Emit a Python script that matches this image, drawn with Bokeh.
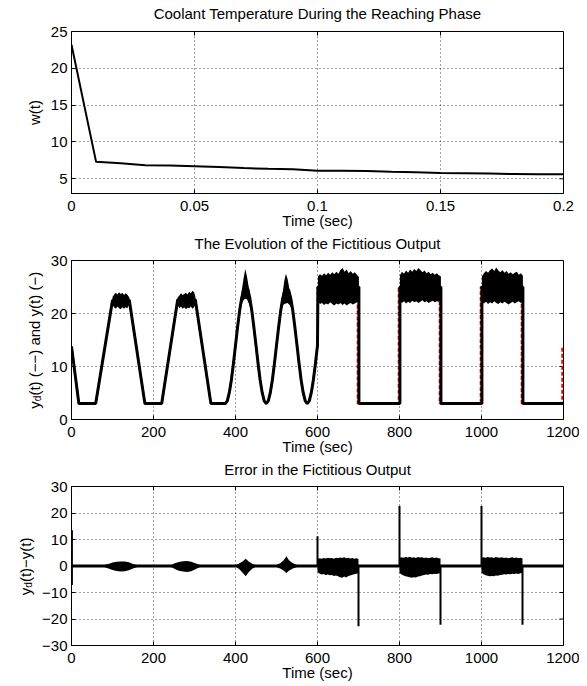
import math
from bokeh.plotting import figure
from bokeh.layouts import column, row
from bokeh.models import FixedTicker, Range1d
from bokeh.core.properties import value
from bokeh.embed import file_html
from bokeh.resources import INLINE

FONT = "Liberation Sans"

# ---------------- panel 1 : coolant temperature ----------------
w_time = [0.00, 0.01, 0.02, 0.03, 0.04, 0.05, 0.06, 0.07, 0.08, 0.09, 0.10,
          0.11, 0.12, 0.13, 0.14, 0.15, 0.16, 0.17, 0.18, 0.19, 0.20]
w_value = [23.2, 7.3, 7.1, 6.85, 6.8, 6.7, 6.6, 6.45, 6.35, 6.3, 6.1,
           6.1, 6.05, 5.95, 5.9, 5.8, 5.75, 5.7, 5.65, 5.6, 5.6]
p1_xticks = [0, 0.05, 0.1, 0.15, 0.2]
p1_xlabels = ["0", "0.05", "0.1", "0.15", "0.2"]
p1_yticks = [5, 10, 15, 20, 25]
p1_ylabels = ["5", "10", "15", "20", "25"]

# ---------------- panel 2 : fictitious output ----------------
trap_time = [0, 18, 59, 100, 141, 179, 220, 259, 302, 340, 375]
trap_value = [13.8, 3.0, 3.0, 22.5, 22.5, 3.0, 3.0, 22.6, 22.6, 3.0, 3.0]
sine_time = [380, 385, 390, 395, 400, 405, 410, 415, 420, 425,
             430, 435, 440, 445, 450, 455, 460, 465, 470, 475,
             480, 485, 490, 495, 500, 505, 510, 515, 520, 525,
             530, 535, 540, 545, 550, 555, 560, 565, 570, 575,
             580, 585, 590, 595, 600]
sine_value = [3.5, 5.1, 7.5, 10.6, 14.0, 17.4, 20.5, 22.9, 24.5, 25.2,
              24.6, 22.9, 20.4, 17.3, 14.0, 10.6, 7.5, 5.1, 3.5, 3.0,
              3.5, 5.1, 7.5, 10.6, 14.0, 17.3, 20.4, 22.8, 24.3, 24.8,
              24.3, 22.8, 20.4, 17.3, 14.0, 10.6, 7.5, 5.1, 3.5, 3.0,
              3.5, 5.1, 7.5, 10.6, 14.0]
sq_time_y = [601, 701, 701, 801, 801, 901, 901, 1001, 1001, 1101, 1101, 1200]
sq_value_y = [25, 25, 3, 3, 25, 25, 3, 3, 25, 25, 3, 3]
sq_time_d = [600, 698, 698, 798, 798, 898, 898, 998, 998, 1098, 1098, 1197, 1197]
sq_value_d = [25, 25, 3, 3, 25, 25, 3, 3, 25, 25, 3, 3, 13.8]

trA_time = [100, 104, 108, 112, 116, 120, 124, 128, 132, 136, 141]
trA_lo = [21.6, 21.2, 20.9, 21.3, 21.0, 20.8, 21.2, 20.9, 21.2, 21.0, 21.7]
trA_hi = [23.1, 23.6, 23.9, 23.6, 24.0, 23.7, 23.9, 23.5, 23.8, 23.6, 23.0]
trB_time = [259, 263, 267, 271, 275, 279, 283, 287, 291, 295, 299, 302]
trB_lo = [21.6, 21.0, 21.3, 20.9, 21.2, 20.8, 21.1, 21.0, 21.3, 20.9, 21.2, 21.7]
trB_hi = [23.0, 23.4, 23.8, 23.5, 23.7, 23.9, 23.6, 24.1, 23.8, 24.3, 24.0, 23.2]
pk1_time = [404, 410, 415, 420, 424, 428, 433, 438, 444]
pk1_lo = [16.6, 19.9, 21.7, 22.6, 22.8, 22.7, 21.8, 20.4, 17.8]
pk1_hi = [17.1, 21.3, 24.2, 26.8, 28.4, 27.0, 24.6, 22.1, 18.3]
pk2_time = [504, 510, 515, 519, 523, 527, 532, 537, 543]
pk2_lo = [16.5, 19.7, 21.4, 21.8, 21.9, 22.0, 21.6, 20.9, 18.3]
pk2_hi = [17.0, 21.1, 23.9, 26.2, 27.5, 26.5, 24.5, 22.6, 18.9]
sqA_time = [601, 606, 611, 616, 621, 626, 631, 636, 641, 646, 651,
            656, 661, 666, 671, 676, 681, 686, 691, 696, 701]
sqA_hi = [27.0, 27.4, 27.1, 27.6, 27.2, 27.7, 27.3, 27.8, 27.4, 27.9, 27.5,
          28.2, 28.6, 27.9, 28.3, 27.6, 28.0, 27.5, 27.8, 27.3, 26.9]
sqA_lo = [22.3, 21.8, 22.0, 21.6, 21.9, 21.7, 22.1, 21.8, 21.5, 21.9, 21.7,
          22.0, 21.6, 21.9, 21.5, 21.8, 22.0, 21.7, 21.9, 22.1, 22.3]
sqB_time = [801, 806, 811, 816, 821, 826, 831, 836, 841, 846, 851,
            856, 861, 866, 871, 876, 881, 886, 891, 896, 901]
sqB_hi = [27.2, 27.9, 27.5, 28.1, 27.7, 28.3, 27.9, 28.4, 28.0, 28.6, 28.2,
          27.8, 28.1, 27.6, 27.9, 27.4, 27.7, 27.3, 27.6, 27.2, 27.0]
sqB_lo = [22.4, 22.0, 22.3, 21.9, 22.2, 22.0, 22.4, 22.1, 22.3, 22.0, 22.2,
          22.5, 22.1, 22.3, 22.0, 22.2, 22.4, 22.1, 22.3, 22.2, 22.5]
sqC_time = [1001, 1006, 1011, 1016, 1021, 1026, 1031, 1036, 1041, 1046, 1051,
            1056, 1061, 1066, 1071, 1076, 1081, 1086, 1091, 1096, 1101]
sqC_hi = [27.0, 27.6, 28.0, 27.7, 28.2, 28.5, 28.0, 28.7, 28.1, 27.8, 28.2,
          27.7, 28.0, 27.5, 27.8, 27.4, 27.7, 27.9, 27.3, 27.6, 27.1]
sqC_lo = [22.2, 21.9, 22.2, 21.8, 22.1, 21.9, 22.3, 22.0, 21.8, 22.1, 21.9,
          22.2, 22.0, 21.7, 22.0, 22.2, 21.9, 22.1, 22.3, 22.0, 22.4]
p2_xticks = [0, 200, 400, 600, 800, 1000, 1200]
p2_xlabels = ["0", "200", "400", "600", "800", "1000", "1200"]
p2_yticks = [0, 10, 20, 30]
p2_ylabels = ["0", "10", "20", "30"]

# ---------------- panel 3 : error ----------------
err_time = [0, 1200]
err_value = [0, 0]
eb1_time = [78, 90, 100, 110, 120, 130, 140, 150, 162]
eb1_hi = [0.3, 0.8, 1.3, 1.6, 1.7, 1.7, 1.4, 0.8, 0.3]
eb1_lo = [-0.3, -0.9, -1.5, -1.9, -2.1, -2.0, -1.6, -0.9, -0.3]
eb2_time = [242, 252, 262, 272, 282, 292, 302, 315]
eb2_hi = [0.3, 1.0, 1.5, 1.8, 1.9, 1.6, 1.0, 0.3]
eb2_lo = [-0.3, -1.1, -1.8, -2.1, -2.3, -2.0, -1.2, -0.3]
eb3_time = [402, 410, 418, 425, 432, 440, 448]
eb3_hi = [0.4, 1.0, 1.8, 2.7, 1.7, 0.9, 0.4]
eb3_lo = [-0.4, -1.3, -2.6, -3.9, -2.4, -1.1, -0.4]
eb4_time = [500, 510, 518, 524, 531, 540, 550]
eb4_hi = [0.4, 1.1, 2.3, 3.7, 2.1, 1.0, 0.4]
eb4_lo = [-0.4, -1.0, -1.8, -2.6, -1.7, -0.9, -0.4]
esA_time = [600, 605, 610, 615, 620, 625, 630, 635, 640, 645, 650,
            655, 660, 665, 670, 675, 680, 685, 690, 695, 700]
esA_hi = [2.6, 2.9, 2.7, 3.0, 2.8, 3.1, 2.9, 3.0, 2.7, 3.1, 2.9,
          3.2, 3.0, 3.3, 2.9, 3.1, 2.8, 3.0, 2.7, 2.9, 2.6]
esA_lo = [-2.4, -2.8, -3.2, -3.0, -3.4, -3.2, -3.5, -3.4, -3.8, -3.6, -3.9,
          -4.2, -4.4, -4.0, -4.3, -3.8, -3.6, -3.3, -3.1, -2.9, -2.6]
esB_time = [800, 805, 810, 815, 820, 825, 830, 835, 840, 845, 850,
            855, 860, 865, 870, 875, 880, 885, 890, 895, 900]
esB_hi = [3.0, 3.3, 3.1, 3.4, 3.2, 3.5, 3.1, 3.3, 3.0, 3.4, 3.2,
          3.3, 3.0, 3.2, 2.9, 3.1, 3.3, 3.0, 3.2, 2.9, 2.8]
esB_lo = [-2.6, -3.2, -3.6, -3.9, -4.1, -4.2, -4.4, -4.2, -4.3, -4.0, -3.9,
          -3.6, -3.4, -3.2, -3.3, -3.0, -3.1, -2.9, -3.0, -2.8, -2.6]
esC_time = [1000, 1005, 1010, 1015, 1020, 1025, 1030, 1035, 1040, 1045, 1050,
            1055, 1060, 1065, 1070, 1075, 1080, 1085, 1090, 1095, 1100]
esC_hi = [3.0, 3.3, 3.1, 3.4, 3.2, 3.3, 3.0, 3.4, 3.2, 3.1, 3.3,
          3.0, 3.2, 2.9, 3.1, 3.3, 3.0, 3.2, 2.9, 3.1, 2.8]
esC_lo = [-2.5, -3.1, -3.5, -3.7, -3.9, -3.8, -3.9, -3.6, -3.7, -3.4, -3.3,
          -3.1, -3.2, -3.0, -3.1, -2.9, -3.0, -2.8, -3.0, -2.7, -2.5]
spike_time = [600, 700, 800, 900, 1000, 1100]
spike_value = [11.2, -22.7, 22.6, -22.2, 22.6, -22.2]
start_time = [1]
start_lo = [-7.2]
start_hi = [13.5]
p3_xticks = [0, 200, 400, 600, 800, 1000, 1200]
p3_xlabels = ["0", "200", "400", "600", "800", "1000", "1200"]
p3_yticks = [-30, -20, -10, 0, 10, 20, 30]
p3_ylabels = ["\u221230", "\u221220", "\u221210", "0", "10", "20", "30"]

titles = ["Coolant Temperature During the Reaching Phase",
          "The Evolution of the Fictitious Output",
          "Error in the Fictitious Output"]

TOTAL_W = 579
FRAME_LEFT = 71
RIGHT_B = 16
FRAME_W = TOTAL_W - FRAME_LEFT - RIGHT_B
TOP_B = 8
BOTTOM_B = 39


def make_fig(width, left, height, xr, yr, xt, xl, yt, yl):
    p = figure(width=width, height=height, x_range=Range1d(*xr), y_range=Range1d(*yr),
               output_backend="svg", toolbar_location=None,
               min_border_left=left, min_border_right=RIGHT_B,
               min_border_top=TOP_B, min_border_bottom=BOTTOM_B)
    p.background_fill_color = "white"
    p.border_fill_color = "white"
    p.outline_line_color = "black"
    p.outline_line_width = 1
    p.xaxis.ticker = FixedTicker(ticks=xt)
    p.xaxis.major_label_overrides = {t: s for t, s in zip(xt, xl)}
    p.yaxis.ticker = FixedTicker(ticks=yt)
    p.yaxis.major_label_overrides = {t: s for t, s in zip(yt, yl)}
    for ax in p.axis:
        ax.major_tick_in = 4
        ax.major_tick_out = 0
        ax.minor_tick_line_color = None
        ax.axis_line_color = "black"
        ax.major_tick_line_color = "black"
        ax.major_label_text_font = FONT
        ax.major_label_text_font_size = "15px"
        ax.major_label_text_color = "black"
        ax.axis_label_text_font = FONT
        ax.axis_label_text_font_size = "15px"
        ax.axis_label_text_font_style = "normal"
        ax.axis_label_text_color = "black"
    p.xaxis.major_label_standoff = 7
    p.xaxis.axis_label = "Time (sec)"
    p.xaxis.axis_label_standoff = -2
    p.yaxis.major_label_standoff = 4
    p.xgrid.ticker = FixedTicker(ticks=xt)
    p.ygrid.ticker = FixedTicker(ticks=yt)
    for g in (p.xgrid[0], p.ygrid[0]):
        g.grid_line_color = "black"
        g.grid_line_alpha = 0.75
        g.grid_line_dash = "1 3"
        g.grid_line_width = 1
    # MATLAB-style inward ticks on the top and right edges of the box
    p.ray(x=[xr[1]] * len(yt), y=yt, length=4, length_units="screen",
          angle=math.pi, line_color="black", line_width=1)
    p.ray(x=xt, y=[yr[1]] * len(xt), length=4, length_units="screen",
          angle=-math.pi / 2, line_color="black", line_width=1)
    return p


def blank_strip(width, height, left, right, top, bottom):
    fw = width - left - right
    fh = height - top - bottom
    f = figure(width=width, height=height, x_range=Range1d(0, fw),
               y_range=Range1d(0, fh), output_backend="svg",
               toolbar_location=None, x_axis_location=None, y_axis_location=None,
               min_border_left=left, min_border_right=right,
               min_border_top=top, min_border_bottom=bottom)
    f.outline_line_color = None
    f.background_fill_color = "white"
    f.border_fill_color = "white"
    f.xgrid.visible = False
    f.ygrid.visible = False
    return f


def title_strip(height, text, y_mid):
    f = blank_strip(TOTAL_W, height, FRAME_LEFT, RIGHT_B, 0, 0)
    f.text(x=[FRAME_W / 2], y=[y_mid], text=[text],
           text_font=value(FONT), text_font_size=value("15px"),
           text_align="center", text_baseline="middle", text_color="black")
    return f


def label_strip(width, height, pieces):
    # blank strip whose frame matches the neighbouring plot frame; data units
    # are pixels measured from the frame's bottom-left corner
    f = blank_strip(width, height, 0, 0, TOP_B, BOTTOM_B)
    for txt, x, y, size in pieces:
        f.text(x=[x], y=[y], text=[txt], angle=math.pi / 2,
               text_font=value(FONT), text_font_size=value(size),
               text_align="left", text_baseline="alphabetic", text_color="black")
    return f


# ---- panel 1
t1 = title_strip(23, titles[0], 10)
p1 = make_fig(TOTAL_W, FRAME_LEFT, TOP_B + 162 + BOTTOM_B, (0, 0.2), (3, 25),
              p1_xticks, p1_xlabels, p1_yticks, p1_ylabels)
p1.yaxis.axis_label = "w(t)"
p1.yaxis.axis_label_standoff = 5
p1.line(w_time, w_value, line_color="black", line_width=2)

# ---- panel 2
t2 = title_strip(20, titles[1], 9.5)
L2 = 44
H2 = TOP_B + 159 + BOTTOM_B
p2 = make_fig(TOTAL_W - L2, FRAME_LEFT - L2, H2, (0, 1200), (0, 30),
              p2_xticks, p2_xlabels, p2_yticks, p2_ylabels)
yd_time = trap_time + sine_time + sq_time_d
yd_value = trap_value + sine_value + sq_value_d
y_time = trap_time + sine_time + sq_time_y
y_value = trap_value + sine_value + sq_value_y
p2.line(yd_time, yd_value, line_color="red", line_width=2, line_dash="4 2")
p2.line(y_time, y_value, line_color="black", line_width=3)
for bt, blo, bhi in ((trA_time, trA_lo, trA_hi), (trB_time, trB_lo, trB_hi),
                     (pk1_time, pk1_lo, pk1_hi), (pk2_time, pk2_lo, pk2_hi),
                     (sqA_time, sqA_lo, sqA_hi), (sqB_time, sqB_lo, sqB_hi),
                     (sqC_time, sqC_lo, sqC_hi)):
    p2.varea(x=bt, y1=blo, y2=bhi, fill_color="black")
lab2 = label_strip(L2, H2, [("y", 34.3, 10.8, "15px"),
                            ("d", 37.3, 18.3, "10px"),
                            ("(t) (\u2212\u2212) and y(t) (\u2212)", 34.3, 23.9, "15px")])

# ---- panel 3
t3 = title_strip(20, titles[2], 9.5)
L3 = 36
H3 = TOP_B + 159 + BOTTOM_B
p3 = make_fig(TOTAL_W - L3, FRAME_LEFT - L3, H3, (0, 1200), (-30, 30),
              p3_xticks, p3_xlabels, p3_yticks, p3_ylabels)
p3.line(err_time, err_value, line_color="black", line_width=3)
for bt, blo, bhi in ((eb1_time, eb1_lo, eb1_hi), (eb2_time, eb2_lo, eb2_hi),
                     (eb3_time, eb3_lo, eb3_hi), (eb4_time, eb4_lo, eb4_hi),
                     (esA_time, esA_lo, esA_hi), (esB_time, esB_lo, esB_hi),
                     (esC_time, esC_lo, esC_hi)):
    p3.varea(x=bt, y1=blo, y2=bhi, fill_color="black")
p3.segment(x0=spike_time, y0=[0] * len(spike_time), x1=spike_time, y1=spike_value,
           line_color="black", line_width=2)
p3.segment(x0=start_time, y0=start_lo, x1=start_time, y1=start_hi,
           line_color="black", line_width=2)
lab3 = label_strip(L3, H3, [("y", 24.7, 50.3, "15px"),
                            ("d", 27.7, 57.8, "10px"),
                            ("(t)\u2212y(t)", 24.7, 63.4, "15px")])

layout = column(t1, p1, t2, row(lab2, p2, spacing=0), t3, row(lab3, p3, spacing=0),
                spacing=0)
open("out.html", "w").write(file_html(layout, INLINE))
